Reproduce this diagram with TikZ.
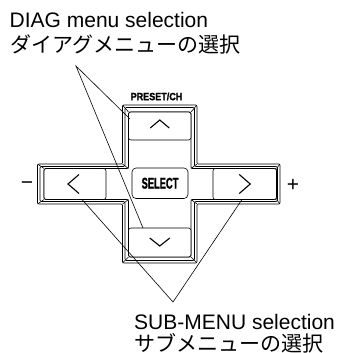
\documentclass[tikz,border=0pt]{standalone}
\usepackage{fontspec}
\setmainfont{Liberation Sans}
\newfontfamily\jpfont{Noto Sans CJK JP}
\newfontfamily\keyfont[FakeBold=1.6]{Liberation Sans Bold}
\begin{document}
\begin{tikzpicture}[x=1pt,y=-1pt,
  outline/.style={line width=0.6pt, rounded corners=1.2pt},
  bevel/.style={line width=0.6pt},
  keybox/.style={draw, fill=white, rounded corners=2.5pt, inner sep=0pt, line width=0.6pt},
  chev/.style={line width=1.1pt},
  callout/.style={line width=0.6pt},
  lbl/.style={font=\fontsize{21}{24}\selectfont, inner sep=0pt, anchor=base west},
  sign/.style={font=\fontsize{21}{24}\selectfont, inner sep=0pt, anchor=base}]
\useasboundingbox (0,0) rectangle (338,353);
% outlines of the cross
\draw[outline] (122.5,105) -- (197,105) -- (197,164) -- (280,164) -- (280,204) -- (197,204) -- (197,263) -- (122.5,263) -- (122.5,204) -- (37.5,204) -- (37.5,164) -- (122.5,164) -- cycle;
\draw[outline] (125,107.5) -- (194.5,107.5) -- (194.5,166.5) -- (277.5,166.5) -- (277.5,201.5) -- (194.5,201.5) -- (194.5,260.5) -- (125,260.5) -- (125,201.5) -- (40,201.5) -- (40,166.5) -- (125,166.5) -- cycle;
\draw[outline] (128.5,112) -- (191,112) -- (191,168.5) -- (276.5,168.5) -- (276.5,199.5) -- (191,199.5) -- (191,257) -- (128.5,257) -- (128.5,199.5) -- (44,199.5) -- (44,168.5) -- (128.5,168.5) -- cycle;
% bevel diagonals
\draw[bevel] (122.5,105) -- (128.5,112) (197,105) -- (191,112)
  (280,164) -- (276.5,168.5) (280,204) -- (276.5,199.5)
  (197,263) -- (191,257) (122.5,263) -- (128.5,257)
  (37.5,204) -- (44,199.5) (37.5,164) -- (44,168.5)
  (122.5,164) -- (128.5,168.5) (197,164) -- (191,168.5)
  (197,204) -- (191,199.5) (122.5,204) -- (128.5,199.5);
% keys
\node[keybox, minimum width=62.5pt, minimum height=28pt] (up) at (159.75,126) {};
\node[keybox, minimum width=62.5pt, minimum height=29pt] (down) at (159.75,242.5) {};
\node[keybox, minimum width=62pt, minimum height=31pt] (left) at (75,184) {};
\node[keybox, minimum width=63.5pt, minimum height=31pt] (right) at (244.75,184) {};
\node[keybox, rounded corners=4pt, minimum width=56pt, minimum height=30.5pt] (select) at (160,183.25)
  {\fontsize{15.5}{15.5}\keyfont\scalebox{0.6}[1]{SELECT}};
\node[inner sep=0pt, font=\fontsize{10.5}{10.5}\keyfont] (preset) at (156.5,96.5) {\scalebox{0.86}[1]{PRESET/CH}};
% chevrons
\draw[chev] ([shift={(-9.5,2)}]up.center) -- ([shift={(0,-6)}]up.center) -- ([shift={(9.5,2)}]up.center);
\draw[chev] ([shift={(-10,-4.5)}]down.center) -- ([shift={(0,3.5)}]down.center) -- ([shift={(10,-4.5)}]down.center);
\draw[chev] ([shift={(4,-9.5)}]left.center) -- ([shift={(-7,0)}]left.center) -- ([shift={(4,9.5)}]left.center);
\draw[chev] ([shift={(-5.5,-9.5)}]right.center) -- ([shift={(5.5,0)}]right.center) -- ([shift={(-5.5,9.5)}]right.center);
% signs
\node[sign] (minus) at (27,189.5) {−};
\node[sign] (plus) at (293,191) {+};
% labels
\node[lbl] (diagen) at (9.5,28) {DIAG menu selection};
\node[lbl] (diagjp) at (10,52.5) {\jpfont ダイアグメニューの選択};
\node[lbl] (suben) at (134,329) {SUB-MENU selection};
\node[lbl] (subjp) at (134,351) {\jpfont サブメニューの選択};
% callouts
\coordinate (dv) at (76,66);
\coordinate (upend) at (130,119);
\coordinate (downend) at (143,228);
\coordinate (sv) at (173,302);
\coordinate (leftend) at (82,199.5);
\coordinate (rightend) at (242,199.5);
\draw[callout] (upend) -- (dv) -- (downend);
\draw[callout] (leftend) -- (sv) -- (rightend);
\end{tikzpicture}
\end{document}
